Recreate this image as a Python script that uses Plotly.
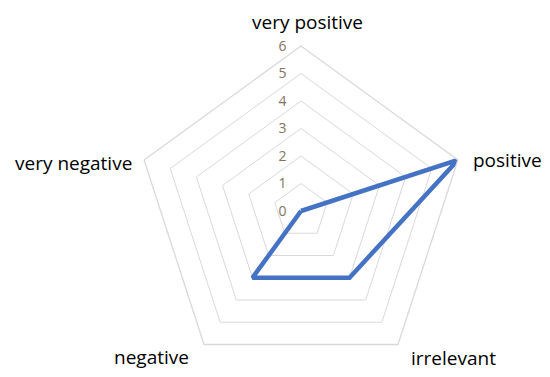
import plotly.graph_objects as go

categories = ["very positive", "positive", "irrelevant", "negative", "very negative"]
values = [0, 6, 3, 3, 0]
radial_ticks = [0, 1, 2, 3, 4, 5, 6]

theta = categories + categories[:1]
r = values + values[:1]

W, H = 550, 377
L, R, T, B = 128, 92, 38, 9
PW, PH = W - L - R, H - T - B
OFF = 8  # page body offset of the rendered figure

fig = go.Figure()
fig.add_trace(go.Scatterpolar(
    r=r, theta=theta, mode="lines",
    line=dict(color="#4472C4", width=4.5),
    hoverinfo="skip", showlegend=False,
))

# category label placement (pixel positions in the screenshot, anchors)
label_pos = {
    "very positive": (307, 22, "center"),
    "positive": (471, 160, "left"),
    "irrelevant": (409, 358, "left"),
    "negative": (191, 357, "right"),
    "very negative": (134, 163, "right"),
}
for cat in categories:
    px, py, xa = label_pos[cat]
    fig.add_annotation(
        x=(px - OFF - L) / PW, y=1 - (py - OFF - T) / PH,
        xref="paper", yref="paper",
        text=cat, showarrow=False,
        xanchor=xa, yanchor="middle",
        font=dict(size=19, color="#000000", family="Open Sans, sans-serif"),
    )

fig.update_layout(
    width=W, height=H,
    margin=dict(l=L, r=R, t=T, b=B),
    paper_bgcolor="white",
    plot_bgcolor="white",
    font=dict(family="Open Sans, sans-serif", color="#000000"),
    polar=dict(
        bgcolor="white",
        gridshape="linear",
        domain=dict(x=[0, 1], y=[0, 1]),
        radialaxis=dict(
            range=[0, 6],
            tickvals=radial_ticks,
            ticktext=[str(v) for v in radial_ticks],
            angle=90,
            tickangle=90,
            side="counterclockwise",
            showline=False,
            ticks="outside",
            ticklen=9,
            tickcolor="rgba(0,0,0,0)",
            showgrid=True,
            gridcolor="#d9d9d9",
            gridwidth=1.3,
            tickfont=dict(size=14, color="#85735f"),
        ),
        angularaxis=dict(
            direction="clockwise",
            rotation=90,
            showgrid=False,
            showline=True,
            linecolor="#d9d9d9",
            linewidth=1.3,
            ticks="",
            showticklabels=False,
        ),
    ),
)

fig.write_html("out.html")
